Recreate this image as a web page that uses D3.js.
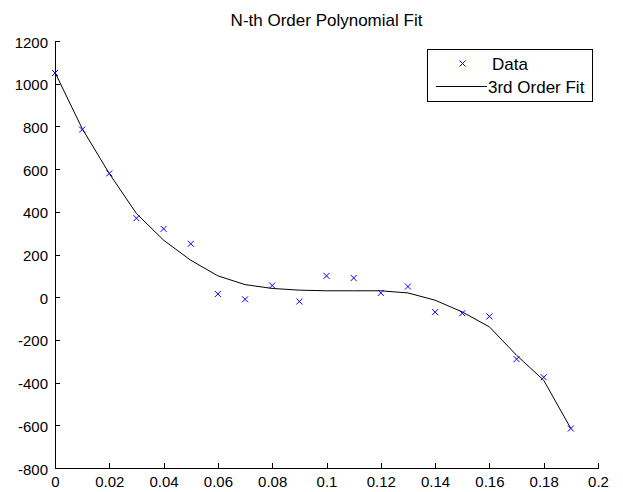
<!DOCTYPE html>
<html><head><meta charset="utf-8">
<script src="https://cdn.jsdelivr.net/npm/d3@7"></script>
<style>body{margin:0;background:#fff}svg{display:block}text{font-family:"Liberation Sans",Arial,sans-serif;font-size:17px}</style>
</head><body><div id="chart"></div>
<script>
const xValues = [0,0.01,0.02,0.03,0.04,0.05,0.06,0.07,0.08,0.09,0.10,0.11,0.12,0.13,0.14,0.15,0.16,0.17,0.18,0.19];
const dataValues = [1050,785,580,370,320,250,15,-10,55,-20,100,90,20,50,-70,-75,-90,-290,-375,-615];
const fitValues = [1053,790,579,392,267,173,100,59,41,33,30,30,30,20,-14,-69,-139,-272,-389,-615];
const xTicks = [0,0.02,0.04,0.06,0.08,0.1,0.12,0.14,0.16,0.18,0.2];
const yTicks = [-800,-600,-400,-200,0,200,400,600,800,1000,1200];
const seriesNames = ["Data","3rd Order Fit"];
const titleText = "N-th Order Polynomial Fit";

const W=623,H=492, L=55,R=598,T=41,B=468;
const svg=d3.select("#chart").append("svg").attr("width",W).attr("height",H);
const x=d3.scaleLinear().domain([0,0.2]).range([L,R]);
const y=d3.scaleLinear().domain([-800,1200]).range([B,T]);

const fmt=d=>String(+(+d).toFixed(2));
const xAxis=svg.append("g").attr("transform",`translate(0,${B})`)
  .call(d3.axisBottom(x).tickValues(xTicks).tickFormat(fmt).tickSizeInner(-5).tickSizeOuter(0).tickPadding(0));
const yAxis=svg.append("g").attr("transform",`translate(${L},0)`)
  .call(d3.axisLeft(y).tickValues(yTicks).tickFormat(fmt).tickSizeInner(-5).tickSizeOuter(0).tickPadding(7));
[xAxis,yAxis].forEach(g=>{
  g.selectAll("path").attr("stroke","#000").attr("shape-rendering","crispEdges");
  g.selectAll("line").attr("stroke","#000").attr("shape-rendering","crispEdges");
  g.selectAll("text").attr("fill","#000").style("font-size","15px").attr("font-family",null);
});
yAxis.selectAll("text").attr("dy","0.4em");
xAxis.selectAll("text").attr("y",19).attr("dy",null);

svg.append("text").attr("x",(L+R)/2).attr("y",26).attr("text-anchor","middle").text(titleText);

const pts=xValues.map((v,i)=>({x:v,d:dataValues[i],f:fitValues[i]}));
svg.append("path").datum(pts).attr("fill","none").attr("stroke","#000").attr("stroke-width",1)
  .attr("d",d3.line().x(d=>x(d.x)).y(d=>y(d.f)).curve(d3.curveLinear));

const s=3;
function cross(g,cx,cy){
  g.append("path").attr("d",`M${cx-s},${cy-s}L${cx+s},${cy+s}M${cx-s},${cy+s}L${cx+s},${cy-s}`)
   .attr("stroke","#0000ff").attr("stroke-width",1).attr("fill","none");
}
const mg=svg.append("g");
pts.forEach(p=>cross(mg,x(p.x),y(p.d)));

// legend
const lg=svg.append("g");
lg.append("rect").attr("x",427.5).attr("y",49.5).attr("width",165).attr("height",52).attr("fill","#fff").attr("stroke","#000");
cross(lg,462.5,63.5);
lg.append("text").attr("x",492).attr("y",70).text(seriesNames[0]);
lg.append("line").attr("x1",436).attr("x2",487).attr("y1",86.5).attr("y2",86.5).attr("stroke","#000");
lg.append("text").attr("x",488).attr("y",93).text(seriesNames[1]);
</script></body></html>
